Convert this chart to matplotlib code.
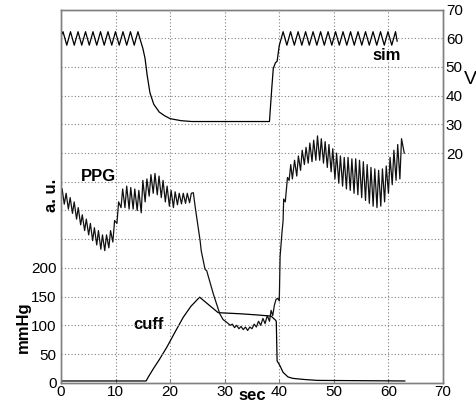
import matplotlib
matplotlib.use("Agg")
import matplotlib.pyplot as plt

plt.rcParams['font.family'] = ['Liberation Sans', 'DejaVu Sans']

# ---------------- data ----------------
x_ticks = [0, 10, 20, 30, 40, 50, 60, 70]
left_ticks = [0, 50, 100, 150, 200]
right_ticks = [20, 30, 40, 50, 60, 70]

# sim (V, right axis)
sim_t = [0.0, 0.37, 1.06, 1.74, 2.43, 3.12, 3.80, 4.49, 5.18, 5.86, 6.55, 7.24, 7.92,
         8.61, 9.30, 9.98, 10.67, 11.36, 12.04, 12.73, 13.42, 14.10,
         14.6, 15.0, 15.4, 15.8, 16.3, 17.0, 18.0, 19.0, 20.0, 22.0, 24.0, 38.2,
         38.6, 38.9, 39.3, 39.6, 40.0, 40.7, 41.39, 42.07, 42.76, 43.45, 44.13, 44.82,
         45.50, 46.19, 46.88, 47.57, 48.25, 48.94, 49.62, 50.31, 51.00, 51.68, 52.37,
         53.06, 53.74, 54.43, 55.12, 55.80, 56.49, 57.18, 57.86, 58.55, 59.24, 59.92,
         60.61, 61.30, 61.6]
sim_v = [60.8, 62.3, 57.6, 62.3, 57.6, 62.3, 57.6, 62.3, 57.6, 62.3, 57.6, 62.3, 57.6,
         62.3, 57.6, 62.3, 57.6, 62.3, 57.6, 62.3, 57.6, 62.3,
         59.0, 56.5, 53.0, 47.0, 41.0, 37.0, 34.3, 33.0, 32.0, 31.3, 31.0, 31.0,
         42.0, 49.5, 51.5, 52.0, 57.5, 62.3, 57.6, 62.3, 57.6, 62.3, 57.6, 62.3,
         57.6, 62.3, 57.6, 62.3, 57.6, 62.3, 57.6, 62.3, 57.6, 62.3, 57.6,
         62.3, 57.6, 62.3, 57.6, 62.3, 57.6, 62.3, 57.6, 62.3, 57.6, 62.3,
         57.6, 62.3, 59.0]

# PPG (a.u., drawn on the right-axis scale)
ppg_t = [0.0, 0.2, 0.6, 0.94, 1.35, 1.68, 2.1, 2.42, 2.85, 3.16, 3.6, 3.9, 4.33, 4.64,
         5.07, 5.38, 5.8, 6.12, 6.55, 6.86, 7.3, 7.6, 8.02, 8.34, 8.77, 9.08, 9.5, 9.82,
         10.25, 10.56, 11.0, 11.3, 11.72, 12.04, 12.48, 12.78, 13.22, 13.52, 13.96, 14.26,
         14.7, 15.0, 15.42, 15.74, 16.16, 16.48, 16.9, 17.22, 17.64, 17.96, 18.38, 18.7,
         19.12, 19.44, 19.86, 20.18, 20.6, 20.92, 21.34, 21.66, 22.08, 22.4, 22.82, 23.14,
         23.56, 23.88, 24.25,
         24.6, 25.0, 25.5, 25.7, 26.4, 26.7, 27.3, 27.9, 28.5, 29.1, 29.7, 30.4, 31.0,
         31.4, 31.8, 32.2, 32.6, 33.0, 33.4, 33.8, 34.2, 34.6, 35.0, 35.4, 35.8, 36.2,
         36.6, 37.0, 37.4, 37.8, 38.2, 38.5, 38.8, 39.1, 39.4, 39.7, 40.0,
         40.15, 40.5, 40.7, 40.8, 41.1, 41.5, 41.8, 42.1, 42.4,
         42.8, 43.2, 43.5, 43.9, 44.2, 44.6, 44.9, 45.3, 45.6, 46.0, 46.3, 46.7, 47.0,
         47.4, 47.7, 48.1, 48.4, 48.8, 49.1, 49.5, 49.8, 50.2, 50.5, 50.9, 51.2, 51.6,
         51.9, 52.3, 52.6, 53.0, 53.3, 53.7, 54.0, 54.4, 54.7, 55.1, 55.4, 55.8, 56.1,
         56.5, 56.8, 57.2, 57.5, 57.9, 58.2, 58.6, 58.9, 59.3, 59.6, 60.0, 60.3, 60.7,
         61.0, 61.4, 61.7, 62.1, 62.4, 62.9]
ppg_v = [5.5, 7.6, 2.2, 6.0, 0.5, 4.5, -1.0, 3.0, -3.0, 1.0, -5.0, -1.5, -7.0, -3.0,
         -8.5, -4.5, -10.5, -6.0, -12.0, -7.0, -13.5, -8.5, -14.0, -8.5, -13.0, -7.0, -11.0, -3.5,
         -4.5, 3.0, 1.0, 7.5, 1.0, 8.5, 0.5, 8.0, 0.5, 7.5, 0.0, 7.0,
         -0.8, 10.5, 3.0, 11.0, 5.0, 12.5, 6.0, 12.9, 5.5, 12.0, 4.5, 10.5,
         3.0, 8.5, 1.5, 7.0, 1.0, 6.5, 2.0, 6.0, 2.3, 6.0, 2.5, 6.0,
         2.7, 6.0, 6.2,
         1.1, -4.0, -10.6, -14.1, -20.5, -21.0, -25.0, -29.0, -32.5, -36.0, -38.0, -39.0, -40.0,
         -39.6, -40.8, -40.0, -41.2, -40.4, -41.5, -40.6, -41.8, -40.6, -41.2, -39.6, -40.6, -38.6,
         -40.0, -37.6, -39.4, -36.6, -38.6, -34.8, -36.6, -33.0, -31.0, -30.6, -31.5,
         -16.0, -7.5, -3.5, 4.0, 3.0, 11.5, 10.5, 16.0, 11.0,
         17.5, 12.0, 19.0, 14.0, 21.0, 16.0, 22.0, 16.5, 23.5, 17.0, 24.5, 17.5, 26.0,
         17.5, 25.0, 16.5, 24.0, 15.0, 23.0, 13.5, 21.5, 11.0, 20.0, 9.5, 19.0, 8.5,
         18.5, 7.5, 18.5, 7.0, 18.0, 6.0, 18.0, 5.5, 17.5, 4.5, 17.0, 3.5, 16.0,
         2.5, 15.0, 1.5, 14.5, 1.0, 14.0, 1.5, 14.5, 3.0, 15.5, 6.0, 18.5, 9.0,
         21.0, 10.5, 23.0, 11.0, 25.0, 20.0]

# cuff pressure (mmHg, left axis)
cuff_t = [0.0, 15.6, 16.0, 16.9, 18.0, 19.4, 21.0, 22.4, 23.8, 25.4, 28.8, 33.0, 36.0,
          38.5, 39.3, 39.45, 39.6, 40.1, 40.7, 41.6, 42.5, 44.7, 47.0, 63.0]
cuff_v = [3.0, 3.0, 10.0, 24.0, 40.0, 62.0, 90.0, 114.0, 133.0, 149.0, 122.0, 120.0, 118.0,
          116.0, 109.0, 107.0, 38.0, 30.0, 18.0, 10.0, 7.5, 5.5, 4.0, 3.0]

# ---------------- figure ----------------
fig = plt.figure(figsize=(4.76, 4.09), dpi=100)
ax = fig.add_axes([61/476, 1 - 382.7/409, 382/476, 373.1/409])
ax2 = ax.twinx()

grid_kw = dict(color='#808080', linestyle=(0, (1, 2)), linewidth=0.8)

ax.set_xlim(0, 70)
ax.set_ylim(0, 650)
ax2.set_ylim(-60, 70)

ax.set_xticks(x_ticks)
ax.set_yticks(left_ticks)
ax.grid(axis='x', **grid_kw)

grid_levels = [-50, -40, -30, -20, -10, 0, 10, 20, 30, 40, 50, 60, 70]
ax2.set_yticks(grid_levels)
ax2.set_yticklabels([str(v) if v in right_ticks else '' for v in grid_levels])
ax2.grid(axis='y', **grid_kw)

ax.plot(cuff_t, cuff_v, color='black', lw=0.9)
ax2.plot(sim_t, sim_v, color='black', lw=0.9)
ax2.plot(ppg_t, ppg_v, color='#111111', lw=0.9)

for a in (ax, ax2):
    for s in a.spines.values():
        s.set_color('#808080')
        s.set_linewidth(1.0)

ax.tick_params(axis='both', direction='in', length=3, color='#808080', labelsize=11, pad=2)
ax.tick_params(axis='y', length=0, pad=3)
ax2.tick_params(axis='y', direction='in', length=0, labelsize=11, pad=2)

ax2.text(59.6, 54.1, 'sim', ha='center', va='center', fontsize=12, fontweight='bold')
ax2.text(6.8, 11.8, 'PPG', ha='center', va='center', fontsize=12, fontweight='bold')
ax.text(16.1, 101, 'cuff', ha='center', va='center', fontsize=12, fontweight='bold')
ax.text(35, -0.0356, 'sec', transform=ax.get_xaxis_transform(), ha='center', va='center',
        fontsize=12, fontweight='bold')
fig.text(23/476, 1 - 327/409, 'mmHg', rotation=90, ha='center', va='center',
         fontsize=12, fontweight='bold')
fig.text(51/476, 1 - 195/409, 'a. u.', rotation=90, ha='center', va='center',
         fontsize=12, fontweight='bold')
fig.text(470/476, 1 - 80/409, 'V', ha='center', va='center', fontsize=14)

fig.savefig('out.png', dpi=100, facecolor='white')
